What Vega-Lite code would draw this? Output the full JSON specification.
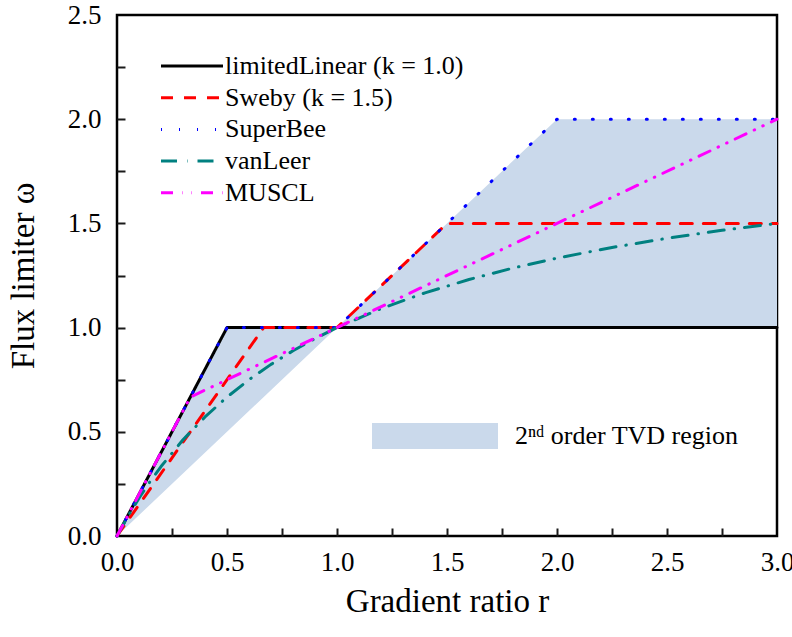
{
  "$schema": "https://vega.github.io/schema/vega-lite/v6.json",
  "width": 660,
  "height": 521,
  "autosize": {"type": "none"},
  "padding": {"left": 117, "top": 15, "right": 15, "bottom": 101},
  "background": "white",
  "config": {
    "font": "'Liberation Serif', 'Times New Roman', 'DejaVu Serif', serif",
    "view": {"stroke": "black", "strokeWidth": 2.5},
    "axis": {
      "domain": false,
      "grid": false,
      "labelFont": "'Liberation Serif', 'Times New Roman', 'DejaVu Serif', serif",
      "titleFont": "'Liberation Serif', 'Times New Roman', 'DejaVu Serif', serif",
      "labelColor": "black",
      "titleColor": "black",
      "labelFontSize": 27,
      "titleFontSize": 33,
      "titleFontWeight": "normal"
    },
    "legend": {
      "labelFont": "'Liberation Serif', 'Times New Roman', 'DejaVu Serif', serif",
      "labelColor": "black",
      "labelFontSize": 26,
      "labelLimit": 0,
      "padding": 0
    }
  },
  "resolve": {"scale": {"x": "independent", "y": "independent"}},
  "datasets": {
    "region": [
      {"r": 0, "lo": 0, "hi": 0},
      {"r": 0.5, "lo": 0.5, "hi": 1},
      {"r": 1, "lo": 1, "hi": 1},
      {"r": 2, "lo": 1, "hi": 2},
      {"r": 3, "lo": 1, "hi": 2}
    ],
    "lines": [
      {"series": "limitedLinear (k = 1.0)", "r": 0, "w": 0},
      {"series": "limitedLinear (k = 1.0)", "r": 0.5, "w": 1},
      {"series": "limitedLinear (k = 1.0)", "r": 3, "w": 1},
      {"series": "Sweby (k = 1.5)", "r": 0, "w": 0},
      {"series": "Sweby (k = 1.5)", "r": 0.6667, "w": 1},
      {"series": "Sweby (k = 1.5)", "r": 1, "w": 1},
      {"series": "Sweby (k = 1.5)", "r": 1.5, "w": 1.5},
      {"series": "Sweby (k = 1.5)", "r": 3, "w": 1.5},
      {"series": "SuperBee", "r": 0, "w": 0},
      {"series": "SuperBee", "r": 0.5, "w": 1},
      {"series": "SuperBee", "r": 1, "w": 1},
      {"series": "SuperBee", "r": 2, "w": 2},
      {"series": "SuperBee", "r": 3, "w": 2},
      {"series": "vanLeer", "r": 0, "w": 0},
      {"series": "vanLeer", "r": 0.05, "w": 0.0952},
      {"series": "vanLeer", "r": 0.1, "w": 0.1818},
      {"series": "vanLeer", "r": 0.15, "w": 0.2609},
      {"series": "vanLeer", "r": 0.2, "w": 0.3333},
      {"series": "vanLeer", "r": 0.3, "w": 0.4615},
      {"series": "vanLeer", "r": 0.4, "w": 0.5714},
      {"series": "vanLeer", "r": 0.5, "w": 0.6667},
      {"series": "vanLeer", "r": 0.6, "w": 0.75},
      {"series": "vanLeer", "r": 0.7, "w": 0.8235},
      {"series": "vanLeer", "r": 0.8, "w": 0.8889},
      {"series": "vanLeer", "r": 0.9, "w": 0.9474},
      {"series": "vanLeer", "r": 1.0, "w": 1.0},
      {"series": "vanLeer", "r": 1.2, "w": 1.0909},
      {"series": "vanLeer", "r": 1.4, "w": 1.1667},
      {"series": "vanLeer", "r": 1.6, "w": 1.2308},
      {"series": "vanLeer", "r": 1.8, "w": 1.2857},
      {"series": "vanLeer", "r": 2.0, "w": 1.3333},
      {"series": "vanLeer", "r": 2.25, "w": 1.3846},
      {"series": "vanLeer", "r": 2.5, "w": 1.4286},
      {"series": "vanLeer", "r": 2.75, "w": 1.4667},
      {"series": "vanLeer", "r": 3.0, "w": 1.5},
      {"series": "MUSCL", "r": 0, "w": 0},
      {"series": "MUSCL", "r": 0.3333, "w": 0.6667},
      {"series": "MUSCL", "r": 3, "w": 2}
    ]
  },
  "layer": [
    {
      "data": {"name": "region"},
      "mark": {"type": "area", "opacity": 1},
      "encoding": {
        "x": {
          "field": "r", "type": "quantitative",
          "scale": {"domain": [0, 3], "nice": false, "zero": false},
          "axis": {
            "orient": "bottom",
            "values": [0, 0.5, 1, 1.5, 2, 2.5, 3],
            "format": ".1f",
            "ticks": true,
            "tickOpacity": 0,
            "tickSize": 10,
            "labelPadding": 3,
            "labelFlush": false,
            "labelOverlap": false,
            "title": "Gradient ratio r",
            "titlePadding": 10
          }
        },
        "y": {
          "field": "lo", "type": "quantitative",
          "scale": {"domain": [0, 2.5], "nice": false, "zero": false},
          "axis": {
            "orient": "left",
            "values": [0, 0.5, 1, 1.5, 2, 2.5],
            "format": ".1f",
            "ticks": true,
            "tickOpacity": 0,
            "tickSize": -10,
            "labelPadding": 26,
            "labelFlush": false,
            "labelOverlap": false,
            "title": "Flux limiter ω",
            "titlePadding": 27
          }
        },
        "y2": {"field": "hi"},
        "fill": {
          "datum": "2ⁿᵈ order TVD region",
          "type": "nominal",
          "scale": {"range": ["#cad9eb"]},
          "legend": {
            "title": null,
            "orient": "none",
            "legendX": 255,
            "legendY": 358,
            "symbolType": "M-1,-0.206H1V0.206H-1Z",
            "symbolSize": 15876,
            "symbolStrokeWidth": 0,
            "symbolOpacity": 1,
            "labelOffset": 17,
            "labelFontSize": 26
          }
        }
      }
    },
    {
      "data": {"name": "lines"},
      "mark": {"type": "line", "strokeWidth": 3, "strokeCap": "round", "strokeJoin": "round"},
      "encoding": {
        "x": {
          "field": "r", "type": "quantitative",
          "scale": {"domain": [0, 3], "nice": false, "zero": false},
          "axis": {
            "orient": "top",
            "offset": -521,
            "values": [0.25, 0.5, 0.75, 1, 1.25, 1.5, 1.75, 2, 2.25, 2.5, 2.75],
            "labels": false,
            "domain": false,
            "ticks": true,
            "tickColor": "#1a1a1a",
            "tickWidth": 2,
            "tickSize": 8,
            "title": null
          }
        },
        "y": {
          "field": "w", "type": "quantitative",
          "scale": {"domain": [0, 2.5], "nice": false, "zero": false},
          "axis": {
            "orient": "right",
            "offset": -660,
            "values": [0.25, 0.5, 0.75, 1, 1.25, 1.5, 1.75, 2, 2.25],
            "labels": false,
            "domain": false,
            "ticks": true,
            "tickColor": "#1a1a1a",
            "tickWidth": 2,
            "tickSize": 8,
            "title": null
          }
        },
        "color": {
          "field": "series", "type": "nominal",
          "scale": {
            "domain": ["limitedLinear (k = 1.0)", "Sweby (k = 1.5)", "SuperBee", "vanLeer", "MUSCL"],
            "range": ["#000000", "#ff0000", "#0000ff", "#008080", "#ff00ff"]
          },
          "legend": {
            "title": null,
            "orient": "none",
            "legendX": 62,
            "legendY": 38,
            "symbolType": "M-3,0H3",
            "symbolSize": 427,
            "symbolStrokeWidth": 3,
            "labelOffset": 20,
            "rowPadding": 5.7,
            "labelFontSize": 26,
            "symbols": {"update": {"strokeCap": {"value": "round"}}}
          }
        },
        "strokeDash": {
          "field": "series", "type": "nominal",
          "scale": {
            "domain": ["limitedLinear (k = 1.0)", "Sweby (k = 1.5)", "SuperBee", "vanLeer", "MUSCL"],
            "range": [[1, 0], [12, 11], [1, 17], [16, 10, 0.5, 10], [12, 9, 0.5, 9, 0.5, 9]]
          },
          "legend": {
            "title": null,
            "orient": "none",
            "legendX": 62,
            "legendY": 38,
            "symbolType": "M-3,0H3",
            "symbolSize": 427,
            "symbolStrokeWidth": 3,
            "labelOffset": 20,
            "rowPadding": 5.7,
            "labelFontSize": 26,
            "symbols": {"update": {"strokeCap": {"value": "round"}}}
          }
        }
      }
    }
  ]
}
